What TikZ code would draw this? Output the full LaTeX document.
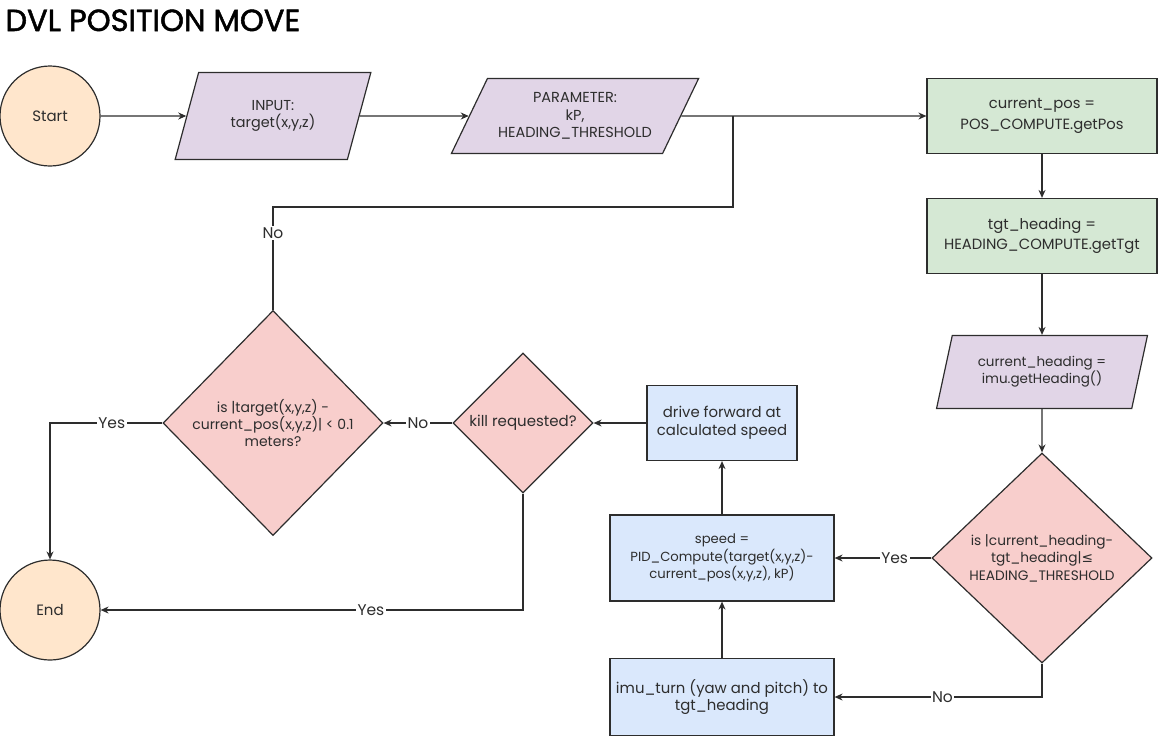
\documentclass[tikz,border=0pt]{standalone}
\usepackage{fontspec}
\setmainfont{Poppins}
\newfontfamily\titlefont[FakeBold=1.6]{Poppins}
\newfontfamily\symfont{DejaVu Sans}
\usepackage{tikz}
\usetikzlibrary{arrows.meta,shapes.geometric}
\definecolor{dvlpeach}{RGB}{255,230,204}
\definecolor{dvllilac}{RGB}{225,213,231}
\definecolor{dvlmint}{RGB}{213,232,212}
\definecolor{dvlsky}{RGB}{218,232,252}
\definecolor{dvlrose}{RGB}{248,206,204}
\definecolor{dvlink}{RGB}{45,45,45}
\newcommand{\fs}[2]{\fontsize{#1}{#2}\selectfont}

\begin{document}
\begin{tikzpicture}[x=1pt,y=-1pt,
  every node/.style={text=dvlink,align=center,font=\fs{13}{17.5}},
  term/.style={circle,draw=dvlink,fill=dvlpeach,line width=1.2pt,minimum size=100pt,inner sep=0pt,font=\fs{15}{18}},
  io/.style={trapezium,trapezium stretches=true,draw=dvlink,fill=dvllilac,line width=1.2pt,inner sep=0pt},
  proc/.style={rectangle,draw=dvlink,line width=1.2pt,inner sep=0pt},
  test/.style={diamond,draw=dvlink,fill=dvlrose,line width=1.2pt,inner sep=0pt},
  arr/.style={-{Stealth[length=8pt,width=7pt]},dvlink,line width=1.1pt},
  lbl/.style={fill=white,inner sep=1.5pt,font=\fs{15.5}{17}}]
\useasboundingbox (0,0) rectangle (1158,740);
\node[anchor=base west,text=black,font=\titlefont\fs{30.5}{33}] (title) at (2,31) {DVL POSITION MOVE};
\node[term] (start) at (50,116) {Start};
\node[io,minimum width=196pt,minimum height=87pt,trapezium left angle=67,trapezium right angle=113,font=\fs{14.4}{17.5}] (input) at (273,116) {INPUT:\\target(x,y,z)};
\node[io,minimum width=248pt,minimum height=75pt,trapezium left angle=56,trapezium right angle=124,font=\fs{14.5}{17.5}] (param) at (575,116) {PARAMETER:\\kP,\\HEADING\_THRESHOLD};
\node[proc,fill=dvlmint,minimum width=230pt,minimum height=75pt,font=\fs{14.8}{20.5}] (curpos) at (1042,116) {current\_pos =\\POS\_COMPUTE.getPos};
\node[proc,fill=dvlmint,minimum width=230pt,minimum height=75pt,font=\fs{14.8}{20.5}] (tgthead) at (1042,236) {tgt\_heading =\\HEADING\_COMPUTE.getTgt};
\node[io,minimum width=211pt,minimum height=73pt,trapezium left angle=70,trapezium right angle=110,font=\fs{13.5}{17}] (curhead) at (1042,372) {current\_heading =\\imu.getHeading()};
\node[test,minimum width=220pt,minimum height=210pt,font=\fs{13.7}{17.5}] (headtest) at (1042,558) {is |current\_heading-\\tgt\_heading|{\symfont ≤}\\HEADING\_THRESHOLD};
\node[proc,fill=dvlsky,minimum width=224pt,minimum height=77pt,font=\fs{14.9}{17.5}] (turn) at (722,697) {imu\_turn (yaw and pitch) to\\tgt\_heading};
\node[proc,fill=dvlsky,minimum width=224pt,minimum height=86pt,font=\fs{13.2}{17.5}] (speed) at (722,558) {speed =\\PID\_Compute(target(x,y,z)-\\current\_pos(x,y,z), kP)};
\node[proc,fill=dvlsky,minimum width=150pt,minimum height=75pt,font=\fs{14.9}{18}] (drive) at (722,423) {drive forward at\\calculated speed};
\node[test,minimum width=140pt,minimum height=140pt,font=\fs{15}{17}] (killtest) at (523,423) {kill requested?};
\node[test,minimum width=220pt,minimum height=225pt,inner sep=-12pt,font=\fs{14}{17}] (reached) at (273,423) {is |target(x,y,z) -\\current\_pos(x,y,z)| < 0.1\\meters?};
\node[term] (end) at (50,610) {End};
\coordinate (merge) at (733,116);
\coordinate (loop) at (733,207);
\draw[arr] (start) -- (input);
\draw[arr] (input) -- (param);
\draw[arr] (param) -- (curpos);
\draw[arr] (curpos) -- (tgthead);
\draw[arr] (tgthead) -- (curhead);
\draw[arr] (curhead) -- (headtest);
\draw[arr] (headtest.west) -- node[lbl,pos=0.38]{Yes} (speed.east);
\draw[arr] (headtest.south) |- node[lbl,pos=0.74]{No} (turn.east);
\draw[arr] (turn) -- (speed);
\draw[arr] (speed) -- (drive);
\draw[arr] (drive) -- (killtest);
\draw[arr] (killtest.west) -- node[lbl,pos=0.5]{No} (reached.east);
\draw[arr] (reached.west) -| node[lbl,pos=0.225]{Yes} (end.north);
\draw[arr] (killtest.south) |- node[lbl,pos=0.68]{Yes} (end.east);
\draw[dvlink,line width=1.1pt] (reached.north) |- node[lbl,pos=0.375]{No} (loop) -- (merge);
\end{tikzpicture}
\end{document}
